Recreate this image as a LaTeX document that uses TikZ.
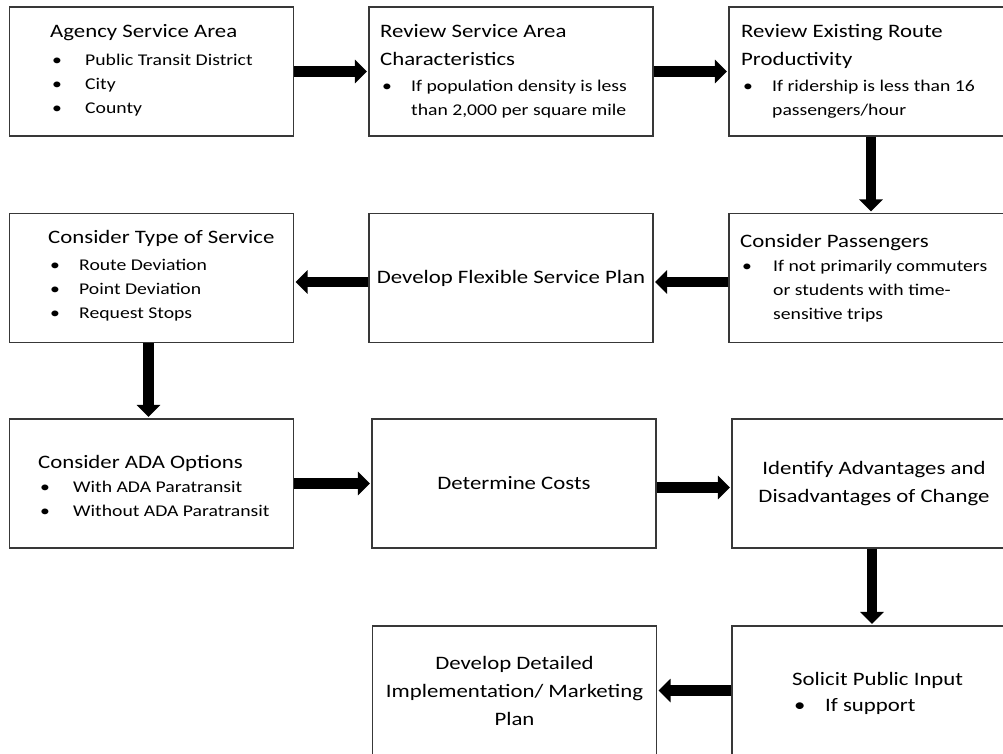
\documentclass[tikz,border=0pt]{standalone}
\usepackage{fontspec}
\setmainfont{Carlito}[FakeStretch=1.2]
\usetikzlibrary{arrows.meta,calc}

% text sizes: headings and bullet lines
\newcommand{\hd}{\fontsize{19}{28}\selectfont}
\newcommand{\bt}{\fontsize{16.4}{24}\selectfont}
\newlength{\bw}\setlength{\bw}{31pt}
\newcommand{\bmark}{\makebox[\bw][l]{\hspace{2pt}\textbullet}}
\newcommand{\bitem}[1]{\par\hangindent=\bw\hangafter=1\noindent\bmark #1}
\newcommand{\blk}[1]{\parbox{270pt}{\raggedright #1\par}}

\tikzset{
  box/.style={draw=black!78, line width=1.2pt, minimum width=284pt,
              minimum height=129pt, inner sep=0pt},
  txt/.style={inner sep=0pt, anchor=west},
  ctxt/.style={inner sep=0pt, align=center, font=\hd},
  flow/.style={line width=10.5pt, -{Triangle[length=12pt,width=23pt]},
               shorten >=1.5pt}
}

\begin{document}
\begin{tikzpicture}[x=1pt, y=-1pt]
\clip (0,0) rectangle (1003,753);
\fill[white] (0,0) rectangle (1003,753);

% boxes
\node[box] (b1)  at (151.5, 71.5) {};
\node[box] (b2)  at (511,   71.5) {};
\node[box] (b3)  at (871,   71.5) {};
\node[box] (b4)  at (151.5, 278)  {};
\node[box] (b5)  at (511,   278)  {};
\node[box] (b6)  at (871,   278)  {};
\node[box] (b7)  at (151.5, 483.5) {};
\node[box] (b8)  at (514,   483.5) {};
\node[box] (b9)  at (874,   483.5) {};
\node[box] (b10) at (514.5, 690.5) {};
\node[box] (b11) at (874,   690.5) {};

% box texts
\node[txt] (t1) at (50, 70) {\blk{\setlength{\bw}{35pt}\hd Agency Service Area\par\vspace{4pt}\bt
  \bitem{Public Transit District}\bitem{City}\bitem{County}}};
\node[txt] (t2) at (380, 71) {\blk{\hd Review Service Area\newline Characteristics\par\vspace{2pt}\bt
  \bitem{If population density is less\newline than 2,000 per square mile}}};
\node[txt] (t3) at (741, 71) {\blk{\hd Review Existing Route\newline Productivity\par\vspace{2pt}\bt
  \bitem{If ridership is less than 16\newline passengers/hour}}};
\node[txt] (t4) at (48, 276) {\blk{\hd Consider Type of Service\par\vspace{3pt}\bt
  \bitem{Route Deviation}\bitem{Point Deviation}\bitem{Request Stops}}};
\node[ctxt] (t5) at (b5) {Develop Flexible Service Plan};
\node[txt] (t6) at (740, 278) {\blk{\setlength{\bw}{33pt}\hd Consider Passengers\par\bt
  \bitem{If not primarily commuters\newline or students with time-\newline sensitive trips}}};
\node[txt] (t7) at (38, 486) {\blk{\setlength{\bw}{35pt}\hd Consider ADA Options\par\bt
  \bitem{With ADA Paratransit}\bitem{Without ADA Paratransit}}};
\node[ctxt] (t8) at (b8) {Determine Costs};
\node[ctxt] (t9) at (b9) {Identify Advantages and\\Disadvantages of Change};
\node[ctxt] (t10) at (b10) {Develop Detailed\\Implementation/ Marketing\\Plan};
\node[txt] (t11) at (792, 693) {\blk{\setlength{\bw}{33pt}\hd Solicit Public Input\par\fontsize{19}{26}\selectfont
  \bitem{If support}}};

% connectors
\draw[flow] (b1.east) -- (b2.west);
\draw[flow] (b2.east) -- (b3.west);
\draw[flow] (b3.south) -- (b6.north);
\draw[flow] ([yshift=-4pt]b6.west) -- ([yshift=-4pt]b5.east);
\draw[flow] ([yshift=-4pt]b5.west) -- ([yshift=-4pt]b4.east);
\draw[flow] ([xshift=-3pt]b4.south) -- ([xshift=-3pt]b7.north);
\draw[flow] (b7.east) -- (b8.west);
\draw[flow] ([yshift=-4pt]b8.east) -- ([yshift=-4pt]b9.west);
\draw[flow] ([xshift=-2pt]b9.south) -- ([xshift=-2pt]b11.north);
\draw[flow] (b11.west) -- (b10.east);
\end{tikzpicture}
\end{document}
